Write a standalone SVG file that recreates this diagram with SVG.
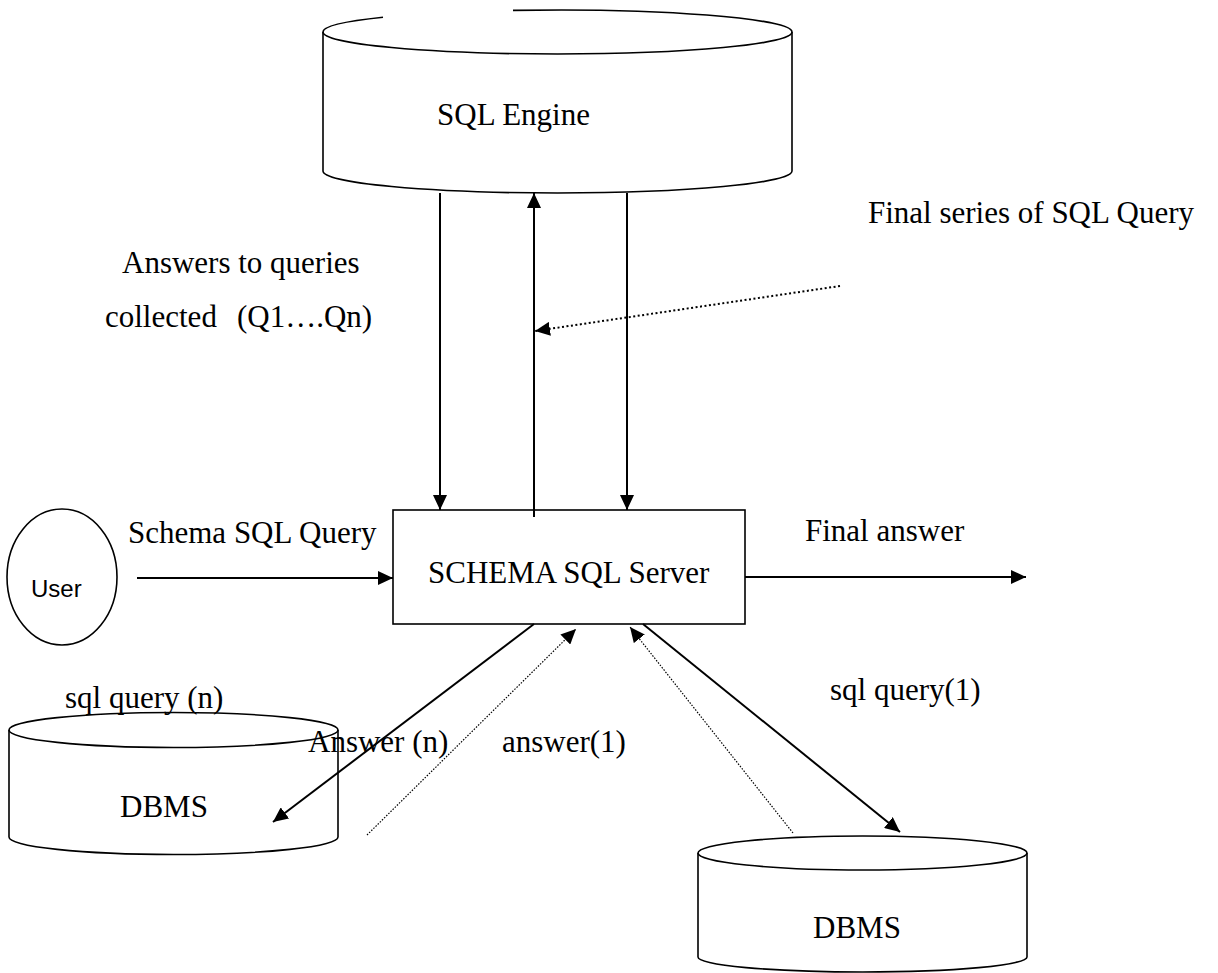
<svg xmlns="http://www.w3.org/2000/svg" width="1218" height="973" viewBox="0 0 1218 973">
  <style>
    .shape { fill: none; stroke: #000; stroke-width: 1.6; }
    .txt { font-family: "Liberation Serif", "Times New Roman", serif; font-size: 31px; fill: #000; }
    .sans { font-family: "Liberation Sans", Arial, sans-serif; font-size: 24px; fill: #000; }
    .solid { fill: none; stroke: #000; stroke-width: 2; }
    .dots { fill: none; stroke: #000; stroke-width: 1.2; stroke-dasharray: 1.5 1.5; }
    .dots-bold { fill: none; stroke: #000; stroke-width: 2; stroke-dasharray: 2 2.5; }
  </style>
  <defs>
    <marker id="arrow" viewBox="0 0 15 14" refX="15" refY="7" markerWidth="15" markerHeight="14" orient="auto" markerUnits="userSpaceOnUse">
      <path d="M0,0 L15,7 L0,14 z" fill="#000"/>
    </marker>
  </defs>

  <rect width="1218" height="973" fill="#fff"/>

  <!-- SQL Engine cylinder (back rim has a small break) -->
  <g id="sql-engine">
    <path class="shape" d="M323,32 A234.5,22 0 0,1 383,17.3"/>
    <path class="shape" d="M513,10.4 A234.5,22 0 0,1 792,32"/>
    <path class="shape" d="M323,32 A234.5,22 0 0,0 792,32"/>
    <path class="shape" d="M323,32 V171 M792,32 V171"/>
    <path class="shape" d="M323,171 A234.5,22 0 0,0 792,171"/>
    <text class="txt" x="437" y="125">SQL Engine</text>
  </g>

  <!-- Central server -->
  <g id="schema-sql-server">
    <rect class="shape" x="393" y="510" width="352" height="114"/>
    <text class="txt" x="428" y="583">SCHEMA SQL Server</text>
  </g>

  <!-- User -->
  <g id="user">
    <ellipse class="shape" cx="62" cy="577" rx="55" ry="68"/>
    <text class="sans" x="31" y="597">User</text>
  </g>

  <!-- Left DBMS -->
  <g id="dbms-n">
    <ellipse class="shape" cx="173.5" cy="730" rx="164.5" ry="17.5"/>
    <path class="shape" d="M9,730 V837 M338,730 V837"/>
    <path class="shape" d="M9,837 A164.5,17.5 0 0,0 338,837"/>
    <text class="txt" x="120" y="817">DBMS</text>
  </g>

  <!-- Right DBMS -->
  <g id="dbms-1">
    <ellipse class="shape" cx="862.5" cy="853" rx="164.5" ry="17"/>
    <path class="shape" d="M698,853 V957 M1027,853 V957"/>
    <path class="shape" d="M698,957 A164.5,15 0 0,0 1027,957"/>
    <text class="txt" x="813" y="938">DBMS</text>
  </g>

  <!-- Connectors -->
  <g id="connectors">
    <line class="solid" x1="440" y1="193" x2="440" y2="510" marker-end="url(#arrow)"/>
    <line class="solid" x1="534" y1="517" x2="534" y2="193" marker-end="url(#arrow)"/>
    <line class="solid" x1="627" y1="193" x2="627" y2="510" marker-end="url(#arrow)"/>
    <line class="dots-bold" x1="840" y1="286" x2="535" y2="331" marker-end="url(#arrow)"/>
    <line class="solid" x1="137" y1="578" x2="393" y2="578" marker-end="url(#arrow)"/>
    <line class="solid" x1="745" y1="577" x2="1026" y2="577" marker-end="url(#arrow)"/>
    <line class="solid" x1="534" y1="624" x2="273" y2="822" marker-end="url(#arrow)"/>
    <line class="dots" x1="367" y1="835" x2="576" y2="629" marker-end="url(#arrow)"/>
    <line class="dots" x1="793" y1="833" x2="630" y2="627" marker-end="url(#arrow)"/>
    <line class="solid" x1="643" y1="624" x2="900" y2="832" marker-end="url(#arrow)"/>
  </g>

  <!-- Connector labels -->
  <g id="labels">
    <text class="txt" x="868" y="223">Final series of SQL Query</text>
    <text class="txt" x="122" y="273">Answers to queries</text>
    <text class="txt" y="327"><tspan x="105">collected</tspan><tspan x="237">(Q1….Qn)</tspan></text>
    <text class="txt" x="128" y="543">Schema SQL Query</text>
    <text class="txt" x="805" y="541">Final answer</text>
    <text class="txt" x="65" y="708">sql query (n)</text>
    <text class="txt" x="308" y="752">Answer (n)</text>
    <text class="txt" x="502" y="752">answer(1)</text>
    <text class="txt" x="830" y="700">sql query(1)</text>
  </g>
</svg>
